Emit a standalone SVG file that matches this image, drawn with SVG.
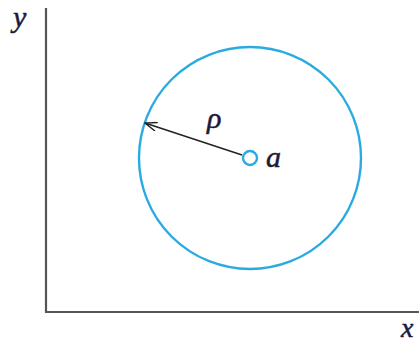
<svg xmlns="http://www.w3.org/2000/svg" width="419" height="344" viewBox="0 0 419 344">
<style>
.axis{stroke:#555;stroke-width:2.2;fill:none}
.lbl{font-family:"Liberation Serif","DejaVu Serif",serif;font-style:italic;fill:#1a1a3a;stroke:#1a1a3a;stroke-width:0.5}
.blue{stroke:#29abe2;stroke-width:2.4;fill:none}
</style>
<defs>
<marker id="ah" viewBox="0 0 14 10" refX="13" refY="5" markerWidth="14" markerHeight="10" markerUnits="userSpaceOnUse" orient="auto">
<path d="M1,0.5 L13,5 L1,9.5" fill="none" stroke="#222" stroke-width="1.4"/>
</marker>
</defs>
<g id="axes">
<path class="axis" d="M46,8 V312 H419"/>
<text class="lbl" x="13" y="27" font-size="30">y</text>
<text class="lbl" x="401" y="337" font-size="28">x</text>
</g>
<g id="circle">
<circle class="blue" cx="250" cy="158" r="111"/>
</g>
<g id="connectors">
<line x1="242" y1="155" x2="145" y2="123" stroke="#222" stroke-width="1.6" marker-end="url(#ah)"/>
</g>
<g id="center">
<circle class="blue" cx="250" cy="158" r="7" fill="#fff"/>
<text class="lbl" x="266" y="167" font-size="30">a</text>
</g>
<g id="rho">
<text class="lbl" x="207" y="128" font-size="30">ρ</text>
</g>
</svg>
